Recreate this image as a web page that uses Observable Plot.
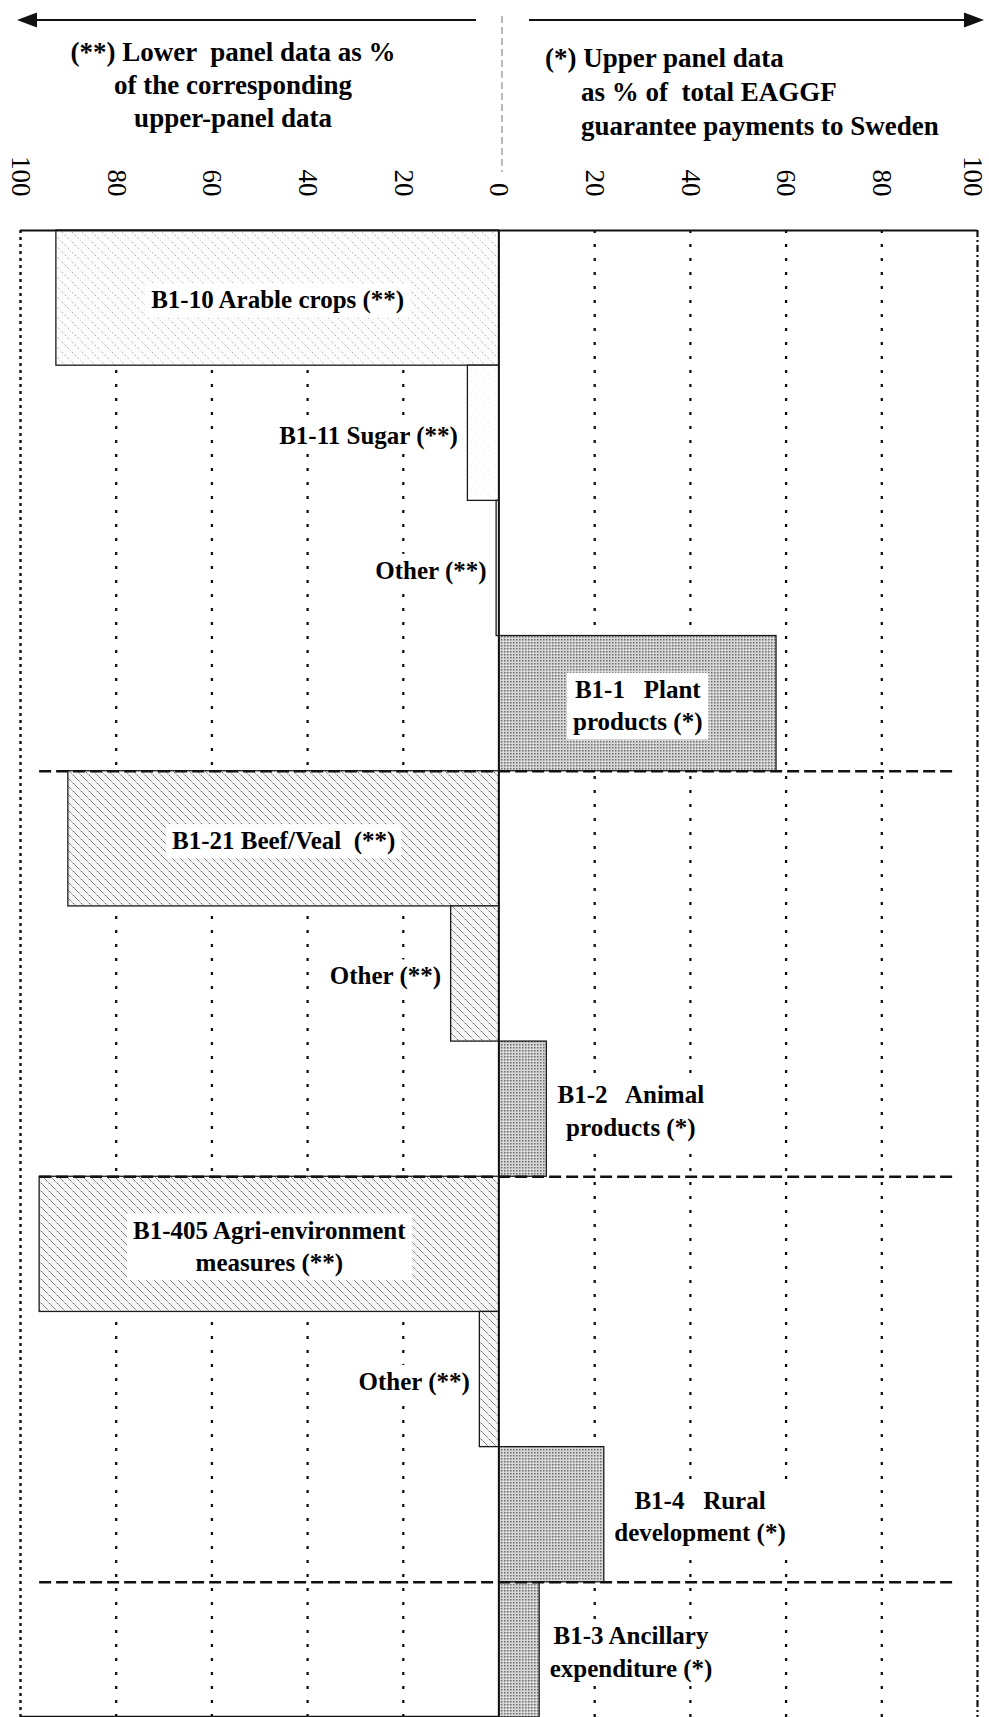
<!DOCTYPE html>
<html>
<head>
<meta charset="utf-8">
<script src="https://cdn.jsdelivr.net/npm/d3@7"></script>
<script src="https://cdn.jsdelivr.net/npm/@observablehq/plot@0.6"></script>
<style>
  html, body { margin: 0; padding: 0; background: #fff; }
  #header { position: relative; width: 989px; height: 150px; }
  #header svg { position: absolute; left: 0; top: 0; overflow: visible; z-index: 2; }
  svg text { white-space: pre; }
</style>
</head>
<body>
<div id="header"></div>
<div id="chart"></div>
<script>
// ---- data ----
const categories = [
  "B1-10 Arable crops (**)",
  "B1-11 Sugar (**)",
  "Other (**)",
  "B1-1   Plant\nproducts (*)",
  "B1-21 Beef/Veal  (**)",
  "Other (**)",
  "B1-2   Animal\nproducts (*)",
  "B1-405 Agri-environment\nmeasures (**)",
  "Other (**)",
  "B1-4   Rural\ndevelopment (*)",
  "B1-3 Ancillary\nexpenditure (*)"
];
const panels = ["lower","lower","lower","upper","lower","lower","upper","lower","lower","upper","upper"];
const groups = ["plant","plant","plant","plant","animal","animal","animal","rural","rural","rural","ancillary"];
const values = [92.5, 6.5, 0.5, 58, 90, 10, 10, 96, 4, 22, 8.5];
const tickValues = [-100, -80, -60, -40, -20, 0, 20, 40, 60, 80, 100];
const headerLeft = ["(**) Lower  panel data as %", "of the corresponding", "upper-panel data"];
const headerRight = ["(*) Upper panel data", "as % of  total EAGGF", "guarantee payments to Sweden"];

// ---- layout ----
const W = 989, H = 1567, mTop = 80, mLeft = 20, mRight = 12;
const FONT = "'Liberation Serif', 'Times New Roman', serif";
const labelSize = 25, labelGap = 10;
const pxPerUnit = (W - mLeft - mRight) / 200;

const ctx = document.createElement("canvas").getContext("2d");
ctx.font = `bold ${labelSize}px 'Liberation Serif'`;
const textWidth = s => d3.max(s.split("\n"), l => ctx.measureText(l).width);

const fillFor = d => d.panel === "upper" ? "url(#stipple)"
  : d.group === "plant" ? (d.value > 50 ? "url(#hatchLight)" : "url(#hatchFaint)")
  : "url(#hatch)";

const rows = categories.map((label, i) => {
  const panel = panels[i], value = values[i];
  const x = panel === "lower" ? -value : value;
  const big = panel === "lower" ? value > 50 : value > 30;
  let lx, anchor;
  if (big) { lx = x / 2; anchor = "middle"; }
  else if (panel === "lower") { lx = x - labelGap / pxPerUnit; anchor = "end"; }
  else { lx = x + (labelGap + textWidth(label) / 2) / pxPerUnit; anchor = "middle"; }
  return {i, label, panel, group: groups[i], value, x, lx, anchor, fill: null};
});
rows.forEach(d => d.fill = fillFor(d));
const separators = rows.filter((d, i) => i > 0 && d.group !== rows[i - 1].group).map(d => d.i);
const innerTicks = tickValues.filter(t => t !== 0 && Math.abs(t) !== 100);
const xMax = d3.max(tickValues);

const labelOpts = {
  x: "lx", y: d => d.i + 0.5, text: "label",
  fontSize: labelSize, fontWeight: "bold", lineHeight: 1.3,
  fill: "black"
};
const axisOpts = {
  anchor: "top", tickSize: 0, tickPadding: 34, tickRotate: 90,
  tickFormat: d => Math.abs(d), fontSize: 27, textAnchor: "end", lineAnchor: "middle",
  fill: "black"
};

const svg = Plot.plot({
  width: W, height: H,
  marginTop: mTop, marginLeft: mLeft, marginRight: mRight, marginBottom: 0,
  x: {domain: [-100, 100], axis: null},
  y: {domain: [0, 11], reverse: true, axis: null},
  color: {type: "identity"},
  style: {fontFamily: FONT, background: "#fff", overflow: "visible"},
  marks: [
    Plot.axisX(tickValues.filter(t => t !== xMax), axisOpts),
    Plot.axisX([xMax], {...axisOpts, dx: -5}),
    // grid
    Plot.ruleX(innerTicks, {y1: 0, y2: 11, stroke: "#111", strokeWidth: 2.3, strokeDasharray: "3,11"}),
    Plot.ruleX([-100], {y1: 0, y2: 11, stroke: "#111", strokeWidth: 2.4, strokeDasharray: "3,4"}),
    Plot.ruleX([100], {y1: 0, y2: 11, stroke: "#111", strokeWidth: 2.2, strokeDasharray: "7,3,2,3"}),
    // bars
    Plot.rect(rows, {x1: 0, x2: "x", y1: "i", y2: d => d.i + 1, fill: "fill", stroke: "#1a1a1a", strokeWidth: 1.3}),
    // frame and separators
    Plot.ruleY([0], {x1: -100, x2: 100, stroke: "#111", strokeWidth: 2}),
    Plot.ruleY([11], {x1: -100, x2: 0, stroke: "#111", strokeWidth: 1.6, dy: -1}),
    Plot.ruleY(separators, {x1: -96, x2: 95, stroke: "#111", strokeWidth: 2.6, strokeDasharray: "12,5"}),
    Plot.ruleX([0], {y1: 0, y2: 11, stroke: "#111", strokeWidth: 1.8}),
    // labels
    Plot.text(rows.filter(d => d.anchor === "middle"), {...labelOpts, textAnchor: "middle"}),
    Plot.text(rows.filter(d => d.anchor === "end"), {...labelOpts, textAnchor: "end"})
  ]
});

// patterns
d3.select(svg).insert("defs", ":first-child").html(`
  <pattern id="hatchLight" width="10" height="10" patternUnits="userSpaceOnUse">
    <rect width="10" height="10" fill="#fcfcfc"/>
    <path d="M-1,-1L11,11M-1,9L1,11M9,-1L11,1" stroke="#a5a5a5" stroke-width="0.9" stroke-dasharray="2,2"/>
  </pattern>
  <pattern id="hatchFaint" width="12" height="12" patternUnits="userSpaceOnUse">
    <rect width="12" height="12" fill="#fff"/>
    <path d="M-1,-1L13,13" stroke="#c8c8c8" stroke-width="0.8" stroke-dasharray="1,5"/>
  </pattern>
  <pattern id="hatch" width="8" height="8" patternUnits="userSpaceOnUse">
    <rect width="8" height="8" fill="#f6f6f6"/>
    <path d="M-1,-1L9,9M-1,7L1,9M7,-1L9,1" stroke="#555" stroke-width="1" stroke-dasharray="2,1"/>
  </pattern>
  <pattern id="stipple" width="3" height="3" patternUnits="userSpaceOnUse">
    <rect width="3" height="3" fill="#d8d8d8"/>
    <rect width="1.5" height="1.5" fill="#6a6a6a"/>
  </pattern>
`);

document.getElementById("chart").append(svg);

// white boxes behind the bar labels (the bold text groups)
d3.select(svg).selectAll("g").filter(function () {
  return this.getAttribute("font-weight") === "bold";
}).selectAll("text").each(function () {
  const b = this.getBBox();
  const node = this;
  const r = document.createElementNS("http://www.w3.org/2000/svg", "rect");
  r.setAttribute("x", b.x - 6);
  r.setAttribute("y", b.y - 3);
  r.setAttribute("width", b.width + 12);
  r.setAttribute("height", b.height + 6);
  r.setAttribute("fill", "white");
  r.setAttribute("stroke", "none");
  const t = node.getAttribute("transform");
  if (t) r.setAttribute("transform", t);
  node.parentNode.insertBefore(r, node);
});

// header: arrows and the two panel notes
const hdr = d3.select("#header").append("svg")
  .attr("width", W).attr("height", 175)
  .style("font-family", FONT);
hdr.append("line").attr("x1", 34).attr("x2", 476).attr("y1", 20).attr("y2", 20)
  .attr("stroke", "#111").attr("stroke-width", 2);
hdr.append("path").attr("d", "M17,20L37,12.5L37,27.5Z").attr("fill", "#111");
hdr.append("line").attr("x1", 529).attr("x2", 966).attr("y1", 20).attr("y2", 20)
  .attr("stroke", "#111").attr("stroke-width", 2);
hdr.append("path").attr("d", "M984,20L964,12.5L964,27.5Z").attr("fill", "#111");
hdr.append("line").attr("x1", 502).attr("x2", 502).attr("y1", 16).attr("y2", 172)
  .attr("stroke", "#777").attr("stroke-width", 1).attr("stroke-dasharray", "7,4");

hdr.selectAll("text.left").data(headerLeft).join("text")
  .attr("class", "left")
  .attr("x", 233).attr("y", (d, i) => 61 + i * 33)
  .attr("text-anchor", "middle")
  .attr("font-size", 27).attr("font-weight", "bold")
  .text(d => d);
hdr.selectAll("text.right").data(headerRight).join("text")
  .attr("class", "right")
  .attr("x", (d, i) => i === 0 ? 545 : 581).attr("y", (d, i) => 67 + i * 34)
  .attr("font-size", 27).attr("font-weight", "bold")
  .text(d => d);
</script>
</body>
</html>
